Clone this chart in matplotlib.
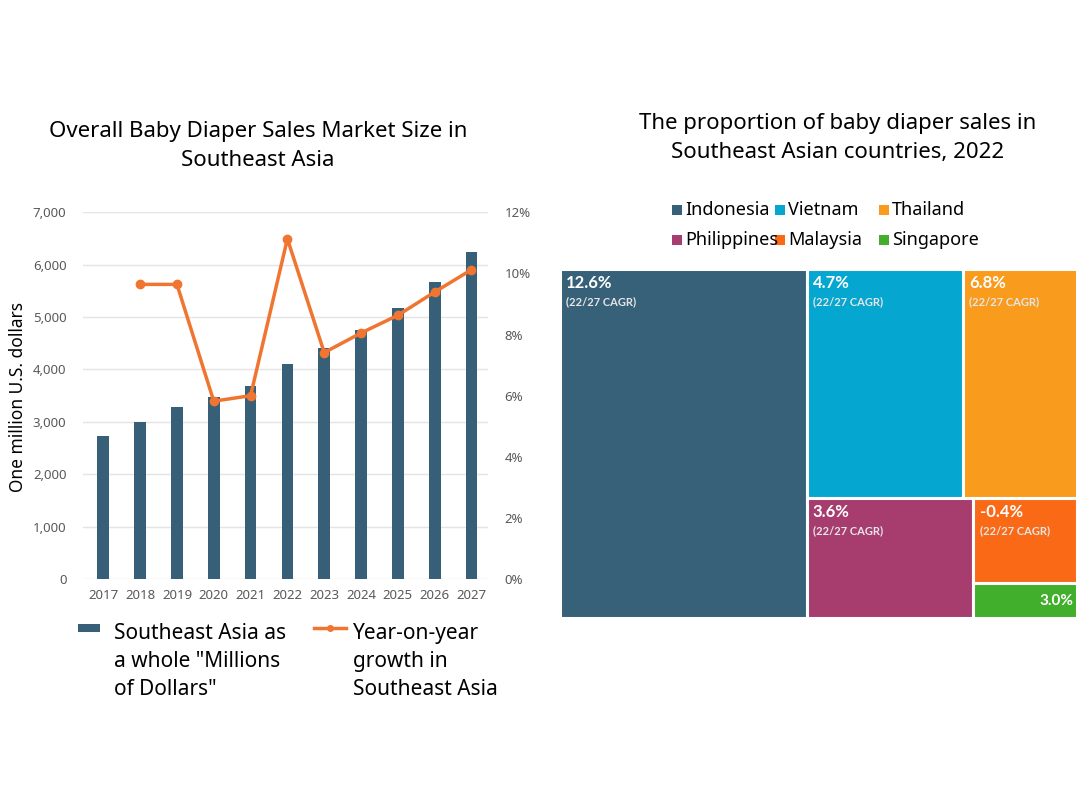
import matplotlib
matplotlib.use("Agg")
import matplotlib.pyplot as plt
from matplotlib.patches import Rectangle
from matplotlib.lines import Line2D
from matplotlib.ticker import FuncFormatter, MultipleLocator

plt.rcParams['font.family'] = ['Noto Sans', 'DejaVu Sans']

# ---------------- data ----------------
years = ["2017", "2018", "2019", "2020", "2021", "2022", "2023", "2024", "2025", "2026", "2027"]
market_size = [2730, 3000, 3275, 3478, 3680, 4100, 4410, 4760, 5165, 5675, 6235]
yoy_growth = [None, 9.64, 9.64, 5.82, 6.0, 11.13, 7.41, 8.05, 8.63, 9.39, 10.12]

countries = ["Indonesia", "Vietnam", "Thailand", "Philippines", "Malaysia", "Singapore"]
shares = [47.7, 19.8, 14.5, 11.1, 4.9, 2.0]
cagr_labels = ["12.6%", "4.7%", "6.8%", "3.6%", "-0.4%", "3.0%"]
country_colors = ["#376178", "#05A6CF", "#F99B1C", "#A73D6F", "#FA6A16", "#41AE2C"]

bar_color = "#375F78"
line_color = "#F07530"
tick_color = "#595959"

W, H = 1080, 810
fig = plt.figure(figsize=(10.8, 8.1), dpi=100)

def fx(px):
    return px / W

def fy(py):
    return 1 - py / H

# ---------------- left: bar + line chart ----------------
ax = fig.add_axes([0.0769, 0.285, 0.375, 0.453])
x = list(range(len(years)))
ax.bar(x, market_size, width=0.32, color=bar_color, zorder=2)
ax.set_ylim(0, 7000)
ax.set_xlim(-0.55, 10.45)
ax.yaxis.set_major_locator(MultipleLocator(1000))
ax.yaxis.set_major_formatter(FuncFormatter(lambda v, p: f"{int(v):,}"))
ax.set_xticks(x)
ax.set_xticklabels(years)
ax.grid(axis='y', color='#E4E4E4', linewidth=1.0, zorder=0)
for s in ax.spines.values():
    s.set_visible(False)
ax.tick_params(axis='both', length=0, labelsize=9.5, colors=tick_color, pad=7)
ax.tick_params(axis='y', pad=12)

ax2 = ax.twinx()
gx = [i for i, v in zip(x, yoy_growth) if v is not None]
gy = [v for v in yoy_growth if v is not None]
ax2.plot(gx, gy, color=line_color, linewidth=2.5, marker='o', markersize=6, zorder=3)
ax2.set_ylim(0, 12)
ax2.yaxis.set_major_locator(MultipleLocator(2))
ax2.yaxis.set_major_formatter(FuncFormatter(lambda v, p: f"{int(v)}%"))
for s in ax2.spines.values():
    s.set_visible(False)
ax2.tick_params(axis='y', length=0, labelsize=9.5, colors=tick_color, pad=12)

fig.text(fx(18), fy(397), "One million U.S. dollars", rotation=90, fontsize=12.5,
         ha='center', va='center')

fig.text(fx(258), fy(146), "Overall Baby Diaper Sales Market Size in\nSoutheast Asia", fontsize=16,
         ha='center', va='center', linespacing=1.55)

# manual legend for left chart
fig.add_artist(Rectangle((fx(78), fy(632)), fx(100) - fx(78), fy(624) - fy(632),
                         transform=fig.transFigure, facecolor=bar_color, edgecolor='none'))
fig.text(fx(114), fy(623), 'Southeast Asia as\na whole "Millions\nof Dollars"', fontsize=15,
         ha='left', va='top', linespacing=1.45, transform=fig.transFigure)
fig.add_artist(Line2D([fx(314), fx(330), fx(346)], [fy(628), fy(628), fy(628)], transform=fig.transFigure,
                      color=line_color, lw=2.5, marker='o', markersize=4, markevery=[1]))
fig.text(fx(353), fy(623), 'Year-on-year\ngrowth in\nSoutheast Asia', fontsize=15,
         ha='left', va='top', linespacing=1.45, transform=fig.transFigure)

# ---------------- right: treemap ----------------
tx = fig.add_axes([0.5185, 0.237, 0.4787, 0.431])
tx.set_xlim(0, 1)
tx.set_ylim(0, 1)
tx.axis('off')

total = sum(shares)
f = [s / total for s in shares]
rects = []
w0 = f[0]
rects.append((0, 0, w0, 1))
rest = 1 - w0
rw = 1 - w0
top_h = (f[1] + f[2]) / rest
vw = rw * f[1] / (f[1] + f[2])
rects.append((w0, 1 - top_h, vw, top_h))
rects.append((w0 + vw, 1 - top_h, rw - vw, top_h))
bot_h = 1 - top_h
bsum = f[3] + f[4] + f[5]
pw = rw * f[3] / bsum
rects.append((w0, 0, pw, bot_h))
sw = rw - pw
mh = bot_h * f[4] / (f[4] + f[5])
rects.append((w0 + pw, bot_h - mh, sw, mh))
rects.append((w0 + pw, 0, sw, bot_h - mh))

bold_fam = ['Lato', 'DejaVu Sans']
for i, (rx, ry, rwid, rh) in enumerate(rects):
    tx.add_patch(Rectangle((rx, ry), rwid, rh, facecolor=country_colors[i], edgecolor='white', linewidth=2.2))
    if countries[i] == "Singapore":
        tx.text(rx + rwid - 0.006, ry + rh / 2, cagr_labels[i], color='white', fontsize=11,
                fontweight='bold', ha='right', va='center', family=bold_fam)
    else:
        tx.text(rx + 0.012, ry + rh - 0.04, cagr_labels[i], color='white', fontsize=12,
                fontweight='bold', ha='left', va='center', family=bold_fam)
        tx.text(rx + 0.012, ry + rh - 0.095, "(22/27 CAGR)", color='#E6E6E6', fontsize=8,
                fontweight='bold', ha='left', va='center', family=bold_fam)

fig.text(fx(838), fy(138), "The proportion of baby diaper sales in\nSoutheast Asian countries, 2022",
         fontsize=16, ha='center', va='center', linespacing=1.55)

# treemap legend (row-major: 3 per row)
leg_x = [677, 780, 884]
leg_y = [210, 240]
for i, name in enumerate(countries):
    r, c = divmod(i, 3)
    sx, sy = leg_x[c], leg_y[r]
    fig.add_artist(Rectangle((fx(sx - 5), fy(sy + 5)), fx(10), 10 / H, transform=fig.transFigure,
                             facecolor=country_colors[i], edgecolor='none'))
    fig.text(fx(sx + 8), fy(sy), name, fontsize=13, ha='left', va='center')

fig.savefig("out.png", dpi=100, facecolor='white')
